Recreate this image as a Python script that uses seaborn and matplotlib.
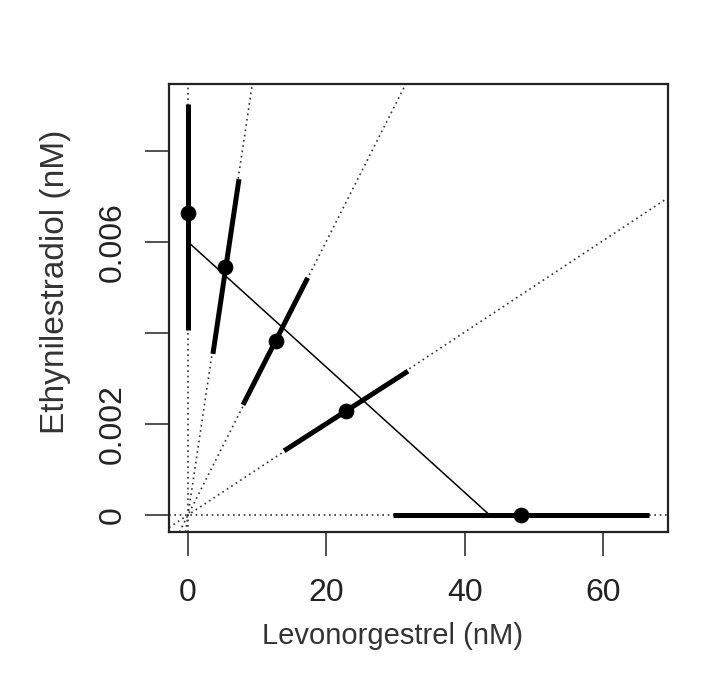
import matplotlib
matplotlib.use("Agg")
import matplotlib.pyplot as plt
import seaborn as sns
import numpy as np
import pandas as pd

sns.set_style("white")
plt.rcParams['font.family'] = ['Liberation Sans', 'DejaVu Sans']

# Observed mixture points (Levonorgestrel nM, Ethynilestradiol nM)
lev = [0.0, 5.35, 12.7, 22.8, 48.1]
ee = [0.00664, 0.00545, 0.00382, 0.00229, 0.0]
# Confidence interval ends along each ray
ci_lev_lo = [0.0, 3.6, 7.95, 13.9, 29.6]
ci_lev_hi = [0.0, 7.37, 17.3, 31.8, 66.6]
ci_ee_lo = [0.00407, 0.00354, 0.00242, 0.00141, 0.0]
ci_ee_hi = [0.00902, 0.00738, 0.00521, 0.00316, 0.0]
# Additivity line intercepts
add_lev = [0.0, 43.6]
add_ee = [0.0060, 0.0]

xticks = [0, 20, 40, 60]
yticks = [0, 0.002, 0.004, 0.006, 0.008]
ytick_labels = ["0", "0.002", "", "0.006", ""]

fig = plt.figure(figsize=(7.03, 6.84), dpi=100)
ax = fig.add_axes([169/703, 1-532/684, (668-169)/703, (532-84)/684])

dot = (0, (1, 2.2))
# rays through origin
ax.axvline(0, color="#333333", lw=1.2, ls=dot)
ax.axhline(0, color="#333333", lw=1.2, ls=dot)
for x, y in zip(lev[1:4], ee[1:4]):
    ax.axline((0, 0), slope=y / x, color="#333333", lw=1.2, ls=dot)

# additivity line
sns.lineplot(x=add_lev, y=add_ee, ax=ax, color="black", lw=1.1, sort=False, estimator=None)

# CI segments
for i in range(len(lev)):
    sns.lineplot(x=[ci_lev_lo[i], ci_lev_hi[i]], y=[ci_ee_lo[i], ci_ee_hi[i]],
                 ax=ax, color="black", lw=3.6, sort=False, estimator=None,
                 solid_capstyle="butt")

sns.scatterplot(x=lev, y=ee, ax=ax, color="black", s=110, edgecolor="black", zorder=5)

ax.set_xlim(-2.75, 69.4)
ax.set_ylim(-0.000374, 0.00947)
ax.set_xticks(xticks)
ax.set_xticklabels([str(t) for t in xticks], fontsize=23, color="#222222")
ax.set_yticks(yticks)
ax.set_yticklabels(ytick_labels, fontsize=23, rotation=90, va="center", color="#222222")
ax.tick_params(axis="both", direction="out", length=17, width=1.2, color="#333333",
               bottom=True, left=True)
ax.tick_params(axis="x", pad=16)
ax.tick_params(axis="y", pad=13)
for s in ax.spines.values():
    s.set_color("#222222")
    s.set_linewidth(1.6)

ax.set_xlabel("Levonorgestrel (nM)", fontsize=21, color="#333333", va="center")
ax.xaxis.set_label_coords((393 - 169) / 499, (532 - 636) / 448)
ax.set_ylabel("Ethynilestradiol (nM)", fontsize=24, color="#333333", va="center")
ax.yaxis.set_label_coords((56 - 169) / 499, (532 - 282) / 448)

fig.savefig("out.png", dpi=100, facecolor="white")
